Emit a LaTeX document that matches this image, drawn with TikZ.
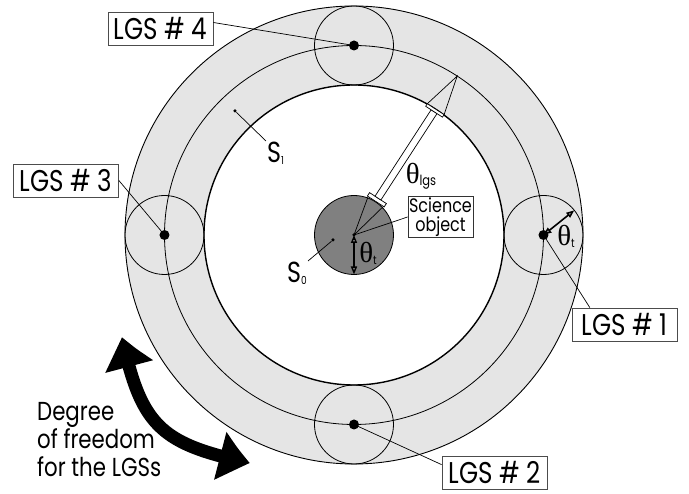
\documentclass[tikz,border=0pt]{standalone}
\usepackage{fontspec}
\setmainfont{Poppins}[FakeStretch=0.82]
\newfontfamily\thfont{Liberation Serif}
\usetikzlibrary{calc,arrows.meta,bending}

\newcommand\thsym{{\thfont θ}}
\newcommand\lowsub[2]{\raisebox{-2pt}{\fontsize{#1}{#1}\selectfont #2}}

\tikzset{
  lgsbox/.style={draw=black!70, line width=0.8pt, inner sep=0pt, minimum width=105pt, minimum height=33pt, font=\fontsize{30}{30}\selectfont},
  lgsdot/.style={circle, fill=black, inner sep=0pt, minimum size=10pt},
  smalldot/.style={circle, fill=black, inner sep=0pt, minimum size=3.5pt},
  pointer/.style={line width=0.7pt},
  dimarrow/.style={line width=1.6pt, {Triangle[fill=white, length=8pt, width=6pt]}-{Triangle[fill=white, length=8pt, width=6pt]}},
  beam/.style={line width=0.7pt, fill=white},
  biglabel/.style={font=\fontsize{29}{29}\selectfont, inner sep=1pt},
}

\begin{document}
\begin{tikzpicture}[x=1pt, y=1pt]

  \useasboundingbox (-354,-259) rectangle (335,235);

  % Coordinates
  \coordinate (O) at (0, 0);
  \def\Rin{150}
  \def\Rmid{189.5}
  \def\Rout{229}
  \def\Rl{39.5}

  % Ring where the LGSs can sit
  \fill[black!10, even odd rule] (O) circle (\Rout) (O) circle (\Rin);
  \foreach \a/\n in {0/1, 270/2, 180/3, 90/4} {
    \coordinate (c\n) at (\a:\Rmid);
    \draw[line width=0.8pt] (c\n) circle (\Rl);
  }
  \draw[line width=0.8pt] (O) circle (\Rmid);
  \draw[line width=0.9pt] (O) circle (\Rout);
  \draw[line width=1.4pt] (O) circle (\Rin);

  % Science field S0
  \filldraw[fill=black!50, line width=0.8pt] (O) circle (\Rl);

  % Beam towards the LGS ring (theta_lgs)
  \begin{scope}[rotate=57]
    \draw[line width=0.7pt] (44,10) -- (O) -- (44,-10);
    \filldraw[beam] (40,-10) rectangle (44,10);
    \filldraw[beam] (44,-3.5) rectangle (147,3.5);
    \filldraw[beam] (147,-10) rectangle (150,10);
    \draw[line width=0.7pt] (150,10) -- (\Rmid,0) -- (150,-10);
  \end{scope}
  \node[biglabel] (thlgs) at (67, 59) {\thsym\lowsub{14}{lgs}};

  % Science object and theta_t
  \node[smalldot] (sci) at (O) {};
  \coordinate (tbot) at (270:\Rl);
  \draw[dimarrow] (sci.center) -- (tbot);
  \node[biglabel] (tht) at (14, -18) {\thsym\lowsub{12}{t}};
  \node[draw=black!80, line width=0.8pt, align=center, inner sep=1pt, minimum width=65pt, minimum height=40pt,
        font=\fontsize{19.5}{19}\selectfont] (scibox) at (86.5, 18) {Science\\object};
  \draw[pointer] (scibox.west) -- (sci.center);

  % theta_t around LGS 1
  \coordinate (t1) at ($(c1)+(38.7:\Rl)$);
  \draw[dimarrow] (c1) -- (t1);
  \node[biglabel] (tht1) at (212, -1) {\thsym\lowsub{12}{t}};

  % Guide stars
  \foreach \n in {1,...,4}
    \node[lgsdot] (lgs\n) at (c\n) {};

  \node[lgsbox] (box1) at (270.5, -89.5) {LGS \# 1};
  \node[lgsbox] (box2) at (140.5, -238) {LGS \# 2};
  \node[lgsbox] (box3) at (-288, 54.5) {LGS \# 3};
  \node[lgsbox] (box4) at (-193.5, 206) {LGS \# 4};
  \draw[pointer] (box1.154) -- (lgs1.center);
  \draw[pointer] (box2.171) -- (lgs2.center);
  \draw[pointer] (box3.east) -- (lgs3.center);
  \draw[pointer] (box4.7) -- (lgs4.center);

  % S0 and S1
  \node[smalldot] (s1) at (-119, 124) {};
  \node[biglabel, anchor=north west] (s1lab) at (-88, 94) {S\lowsub{11}{1}};
  \draw[pointer] (s1) -- (s1lab.north west);
  \node[smalldot] (s0) at (-21, -5) {};
  \node[biglabel, anchor=north east] (s0lab) at (-46, -26) {S\lowsub{11}{0}};
  \draw[pointer] (s0) -- (s0lab.north east);

  % Degree of freedom
  \coordinate (dofA) at (-232, -102);
  \coordinate (dofB) at (-104, -228);
  \draw[line width=13pt, {Triangle[length=32pt, width=46pt, bend]}-{Triangle[length=32pt, width=46pt, bend]}]
    (dofA) to[out=-78, in=168, looseness=1.3] (dofB);
  \node[anchor=west, align=left, inner sep=0pt, font=\fontsize{26}{28}\selectfont] (dof) at (-317, -205)
    {Degree\\of freedom\\for the LGSs};

\end{tikzpicture}
\end{document}
